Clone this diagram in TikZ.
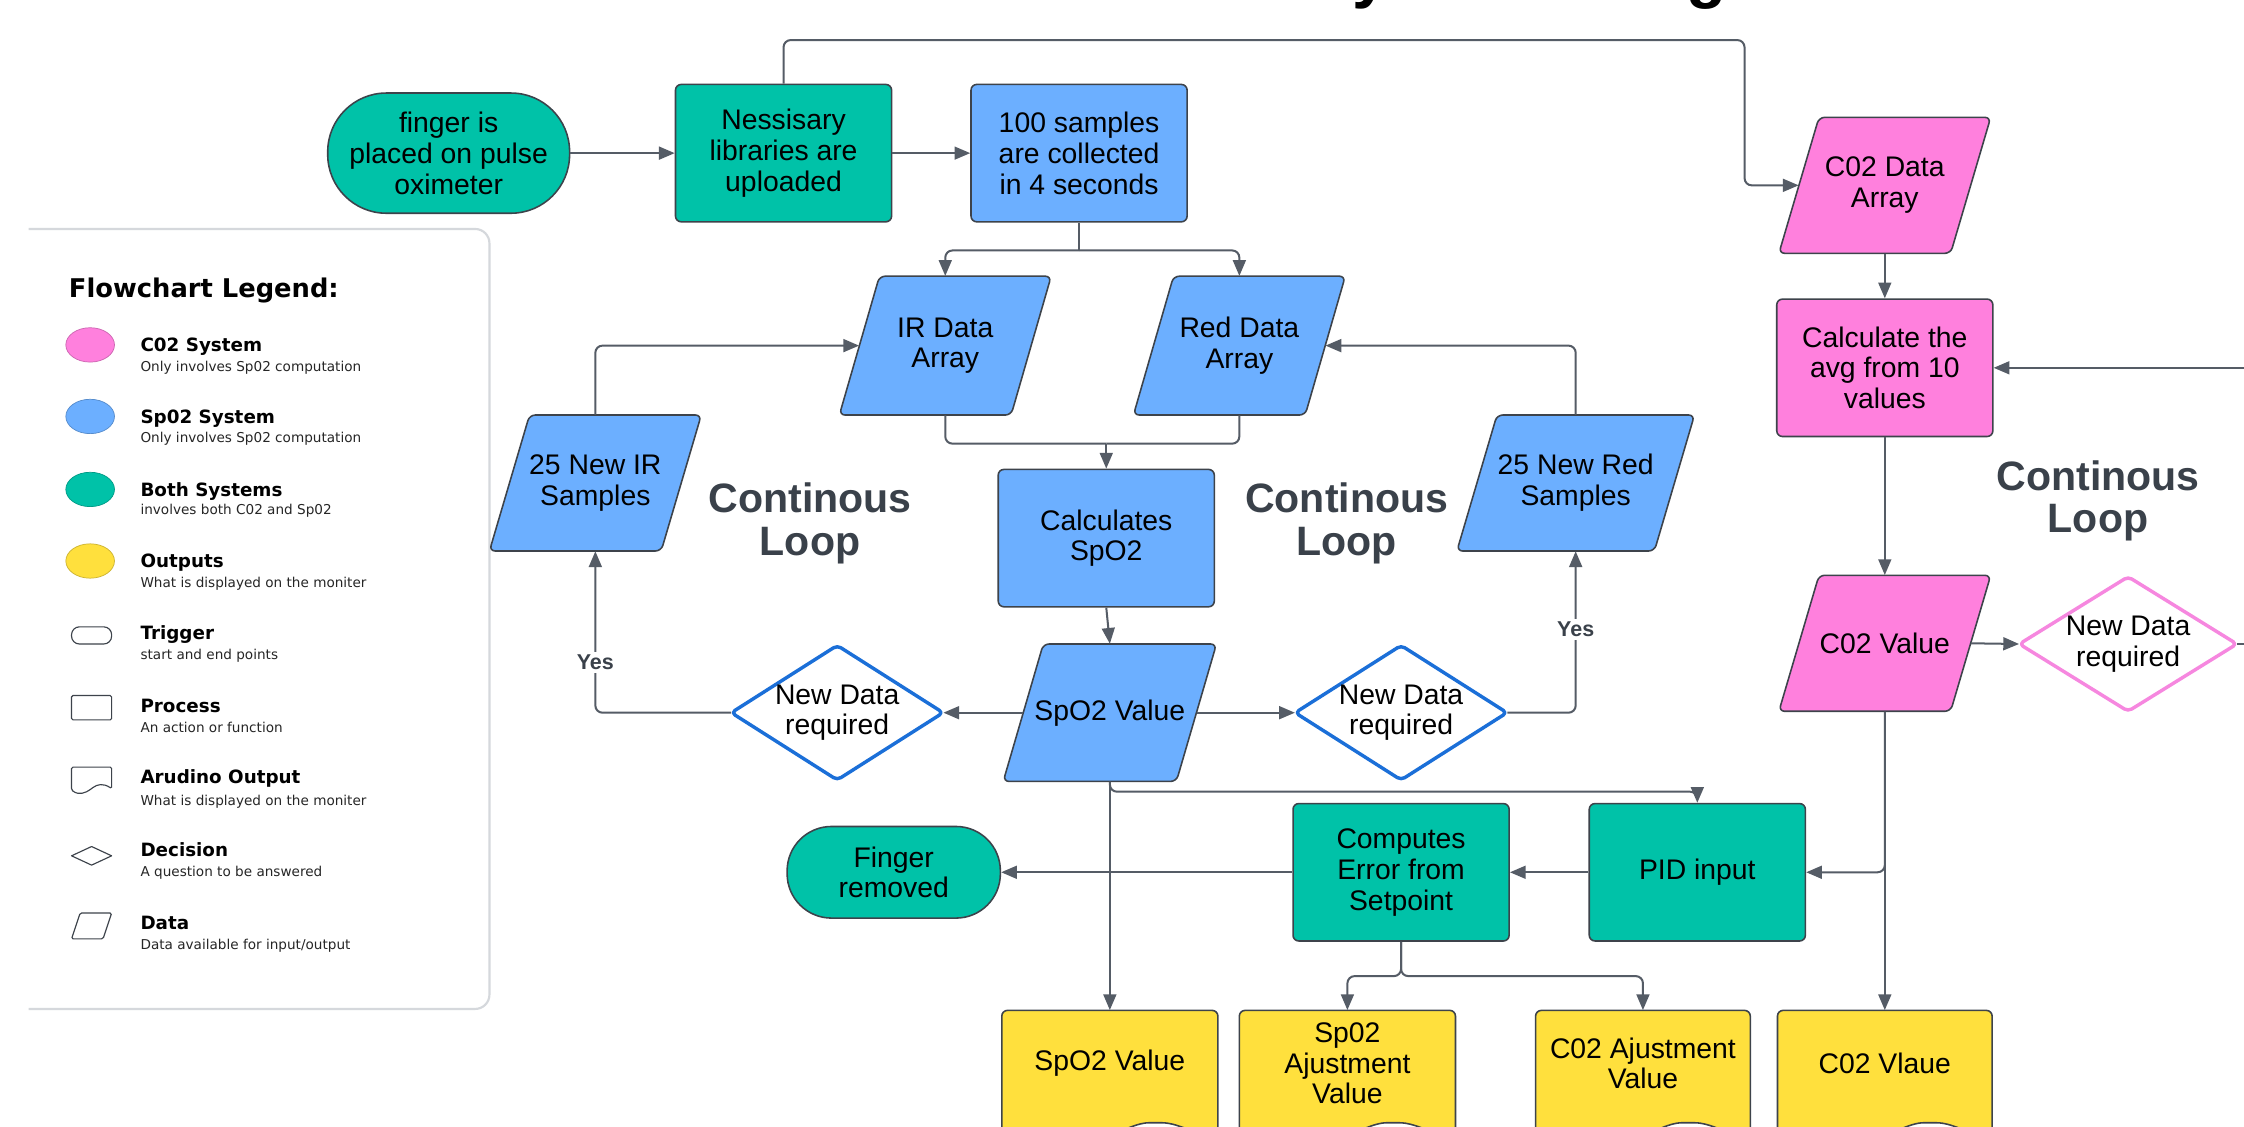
\documentclass[tikz,border=0pt]{standalone}
\usepackage{fontspec}
\setmainfont{Liberation Sans}
\newfontfamily\legfont{DejaVu Sans}
\usetikzlibrary{arrows.meta,calc}
\definecolor{tealc}{HTML}{00C2A8}
\definecolor{bluec}{HTML}{6CAFFF}
\definecolor{pinkc}{HTML}{FF80DD}
\definecolor{yelc}{HTML}{FFE03D}
\definecolor{bordc}{HTML}{3D434B}
\definecolor{linec}{HTML}{555C66}
\definecolor{blued}{HTML}{1B6FD8}
\definecolor{pinkd}{HTML}{F687DF}
\definecolor{loopc}{HTML}{3A414A}
\definecolor{legc}{HTML}{D5D8DC}
\tikzset{
  base/.style={draw=bordc, line width=1.1pt, rounded corners=4pt},
  txt/.style={font=\fontsize{19.8}{21.5}\selectfont, align=center, text=black, inner sep=0pt},
  proc/.style={base, txt, minimum width=151pt, minimum height=96pt},
  conn/.style={draw=linec, line width=1.4pt, rounded corners=5pt, -{Triangle[length=11pt,width=9pt]}},
  plainline/.style={draw=linec, line width=1.4pt, rounded corners=5pt},
  looptxt/.style={font=\fontsize{28.7}{30}\selectfont\bfseries, text=loopc, align=center, inner sep=0pt},
  yes/.style={font=\fontsize{15}{15}\selectfont\bfseries, text=loopc, fill=white, inner sep=2pt},
  legbox/.style={draw=legc, line width=1.5pt, rounded corners=10pt},
  legshape/.style={draw=bordc, line width=0.8pt},
  legtitle/.style={font=\legfont\bfseries\fontsize{12.8}{13}\selectfont, anchor=base west, inner sep=0pt},
  legsub/.style={font=\legfont\fontsize{9.5}{10}\selectfont, text=black!85, anchor=base west, inner sep=0pt},
}
% parallelogram data shape: name, cx, cy, mid width, height, slant, fill, text
\newcommand\datashape[8]{%
  \path[base, fill=#7] ({#2-#4/2+#6/2},{#3-#5/2}) -- ({#2+#4/2+#6/2},{#3-#5/2}) -- ({#2+#4/2-#6/2},{#3+#5/2}) -- ({#2-#4/2-#6/2},{#3+#5/2}) -- cycle;
  \node[txt, minimum width=#4pt, minimum height=#5pt] (#1) at (#2,#3) {#8};
}
% decision diamond: name, cx, cy, w, h, colour, text
\newcommand\decshape[7]{%
  \path[draw=#6, line width=2.4pt, fill=white, rounded corners=3pt, line join=round] ({#2-#4/2},#3) -- (#2,{#3-#5/2}) -- ({#2+#4/2},#3) -- (#2,{#3+#5/2}) -- cycle;
  \node[txt, minimum width=#4pt, minimum height=#5pt] (#1) at (#2,#3) {#7};
}
% output document shape: name, cx, w, text
\newcommand\outshape[4]{%
  \path[base, fill=yelc] ({#2-#3/2},806) -- ({#2-#3/2},706) -- ({#2+#3/2},706) -- ({#2+#3/2},798) .. controls ({#2+0.32*#3},786) and ({#2+0.28*#3},784.5) .. ({#2+0.21*#3},784.5) .. controls ({#2+0.05*#3},784.5) and ({#2-0.15*#3},815) .. ({#2-#3/2},806) -- cycle;
  \node[txt, minimum width=#3pt, minimum height=74pt] (#1) at (#2,743) {#4};
}
\begin{document}
\begin{tikzpicture}[x=1pt,y=-1pt]
\useasboundingbox (0,0) rectangle (1568,787);
\fill[white] (0,0) rectangle (1568,787);

% title fragments (cut off by the top edge)
\node[font=\fontsize{46}{46}\selectfont\bfseries, anchor=base west, inner sep=0pt] (titY) at (945,-3.2) {y};
\node[font=\fontsize{46}{46}\selectfont\bfseries, anchor=base west, inner sep=0pt] (titG) at (1178,-3.2) {g};

% legend
\draw[legbox] (20,160) -- (342,160) -- (342,705) -- (20,705);
\node[font=\legfont\bfseries\fontsize{18}{18}\selectfont, anchor=base west, inner sep=0pt] (legT) at (48,208) {Flowchart Legend:};
\draw[draw=pinkc!80!black, line width=0.5pt, fill=pinkc] (63,241) ellipse [x radius=17pt, y radius=12pt];
\draw[draw=bluec!80!black, line width=0.5pt, fill=bluec] (63,291) ellipse [x radius=17pt, y radius=12pt];
\draw[draw=tealc!80!black, line width=0.5pt, fill=tealc] (63,342) ellipse [x radius=17pt, y radius=12pt];
\draw[draw=yelc!80!black, line width=0.5pt, fill=yelc] (63,392) ellipse [x radius=17pt, y radius=12pt];
\draw[legshape, rounded corners=5.5pt] (50,438) rectangle (78,450);
\draw[legshape, rounded corners=1pt] (50,486) rectangle (78,503);
\draw[legshape, rounded corners=1pt] (50,536) -- (78,536) -- (78,551) .. controls (72,547) and (68,548) .. (64,551) .. controls (60,554) and (55,556) .. (50,552) -- cycle;
\draw[legshape, line join=round] (50,598) -- (64,591.5) -- (78,598) -- (64,604.5) -- cycle;
\draw[legshape, rounded corners=1pt] (56,638) -- (78,638) -- (72,656) -- (50,656) -- cycle;
\node[legtitle] (l1) at (98,245.7) {C02 System};
\node[legsub] (l1s) at (98,259.5) {Only involves Sp02 computation};
\node[legtitle] (l2) at (98,295.7) {Sp02 System};
\node[legsub] (l2s) at (98,309.5) {Only involves Sp02 computation};
\node[legtitle] (l3) at (98,346.7) {Both Systems};
\node[legsub] (l3s) at (98,359.5) {involves both C02 and Sp02};
\node[legtitle] (l4) at (98,396.7) {Outputs};
\node[legsub] (l4s) at (98,410.5) {What is displayed on the moniter};
\node[legtitle] (l5) at (98,446.7) {Trigger};
\node[legsub] (l5s) at (98,460.5) {start and end points};
\node[legtitle] (l6) at (98,497.7) {Process};
\node[legsub] (l6s) at (98,511.5) {An action or function};
\node[legtitle] (l7) at (98,547.7) {Arudino Output};
\node[legsub] (l7s) at (98,562.5) {What is displayed on the moniter};
\node[legtitle] (l8) at (98,598.7) {Decision};
\node[legsub] (l8s) at (98,612.5) {A question to be answered};
\node[legtitle] (l9) at (98,649.7) {Data};
\node[legsub] (l9s) at (98,663.5) {Data available for input/output};

% top row
\node[base, txt, fill=tealc, rounded corners=41pt, minimum width=169pt, minimum height=84pt] (finger) at (313.5,107) {finger is\\placed on pulse\\oximeter};
\node[proc, fill=tealc] (ness) at (547.5,107) {Nessisary\\libraries are\\uploaded};
\node[proc, fill=bluec] (s100) at (754,107) {100 samples\\are collected\\in 4 seconds};

% SpO2 column
\datashape{ir}{660.5}{241.5}{120}{97}{28}{bluec}{IR Data\\Array}
\datashape{red}{866}{241.5}{120}{97}{28}{bluec}{Red Data\\Array}
\node[proc, fill=bluec] (calcsp) at (773,376) {Calculates\\SpO2};
\datashape{spv}{775.5}{498}{121}{96}{28}{bluec}{SpO2 Value}
\decshape{decL}{585}{498}{148}{94}{blued}{New Data\\required}
\decshape{decR}{979}{498}{148}{94}{blued}{New Data\\required}
\datashape{irs}{416}{337.5}{120}{95}{28}{bluec}{25 New IR\\Samples}
\datashape{reds}{1101}{337.5}{138}{95}{28}{bluec}{25 New Red\\Samples}

% CO2 column
\datashape{co2arr}{1317}{129.5}{120}{95}{28}{pinkc}{C02 Data\\Array}
\node[proc, fill=pinkc] (calc) at (1317,257) {Calculate the\\avg from 10\\values};
\datashape{co2v}{1317}{449.5}{120}{95}{28}{pinkc}{C02 Value}
\decshape{decP}{1487}{450}{152}{94}{pinkd}{New Data\\required}

% PID row
\node[proc, fill=tealc] (pid) at (1186,609.5) {PID input};
\node[proc, fill=tealc] (comp) at (979,609.5) {Computes\\Error from\\Setpoint};
\node[base, txt, fill=tealc, rounded corners=31pt, minimum width=149pt, minimum height=64pt] (finrem) at (624.5,609.5) {Finger\\removed};

% outputs
\outshape{outSp}{775.5}{151}{SpO2 Value}
\outshape{outSpA}{941.5}{151}{Sp02\\Ajustment\\Value}
\outshape{outCoA}{1148}{150}{C02 Ajustment\\Value}
\outshape{outCo}{1317}{150}{C02 Vlaue}

% loop labels
\node[looptxt] (loopL) at (566,366) {Continous\\Loop};
\node[looptxt] (loopM) at (941,366) {Continous\\Loop};
\node[looptxt] (loopR) at (1466,350) {Continous\\Loop};

% connectors
\coordinate (split1) at (754,175);
\coordinate (merge1) at (773,310);
\coordinate (rEdgeA) at (1568,450);
\coordinate (rEdgeB) at (1568,257);
\draw[conn] (finger.east) -- (ness.west);
\draw[conn] (ness.east) -- (s100.west);
\draw[conn] (ness.north) |- (1219,28) |- (co2arr.west);
\draw[plainline] (s100.south) -- (split1);
\draw[conn] (split1) -| (ir.north);
\draw[conn] (split1) -| (red.north);
\draw[plainline] (ir.south) |- (merge1);
\draw[plainline] (red.south) |- (merge1);
\draw[conn] (merge1) -- (calcsp.north);
\draw[conn] (calcsp.south) -- (spv.north);
\draw[conn] (spv.west) -- (decL.east);
\draw[conn] (spv.east) -- (decR.west);
\draw[conn] (decL.west) -| (irs.south);
\draw[conn] (irs.north) |- (ir.west);
\draw[conn] (decR.east) -| (reds.south);
\draw[conn] (reds.north) |- (red.east);
\draw[conn] (spv.south) -- (outSp.north);
\draw[conn] (spv.south) -- ++(0,7) -| (pid.north);
\draw[conn] (pid.west) -- (comp.east);
\draw[conn] (comp.west) -- (finrem.east);
\draw[conn] (comp.south) -- ++(0,24) -| (outSpA.north);
\draw[conn] (comp.south) -- ++(0,24) -| (outCoA.north);
\draw[conn] (co2arr.south) -- (calc.north);
\draw[conn] (calc.south) -- (co2v.north);
\draw[conn] (co2v.east) -- (decP.west);
\draw[plainline] (decP.east) -- (rEdgeA);
\draw[conn] (rEdgeB) -- (calc.east);
\draw[conn] (co2v.south) -- (outCo.north);
\draw[conn] (co2v.south) |- (pid.east);

\node[yes] (yesL) at (416,463) {Yes};
\node[yes] (yesR) at (1101,440) {Yes};
\end{tikzpicture}
\end{document}
